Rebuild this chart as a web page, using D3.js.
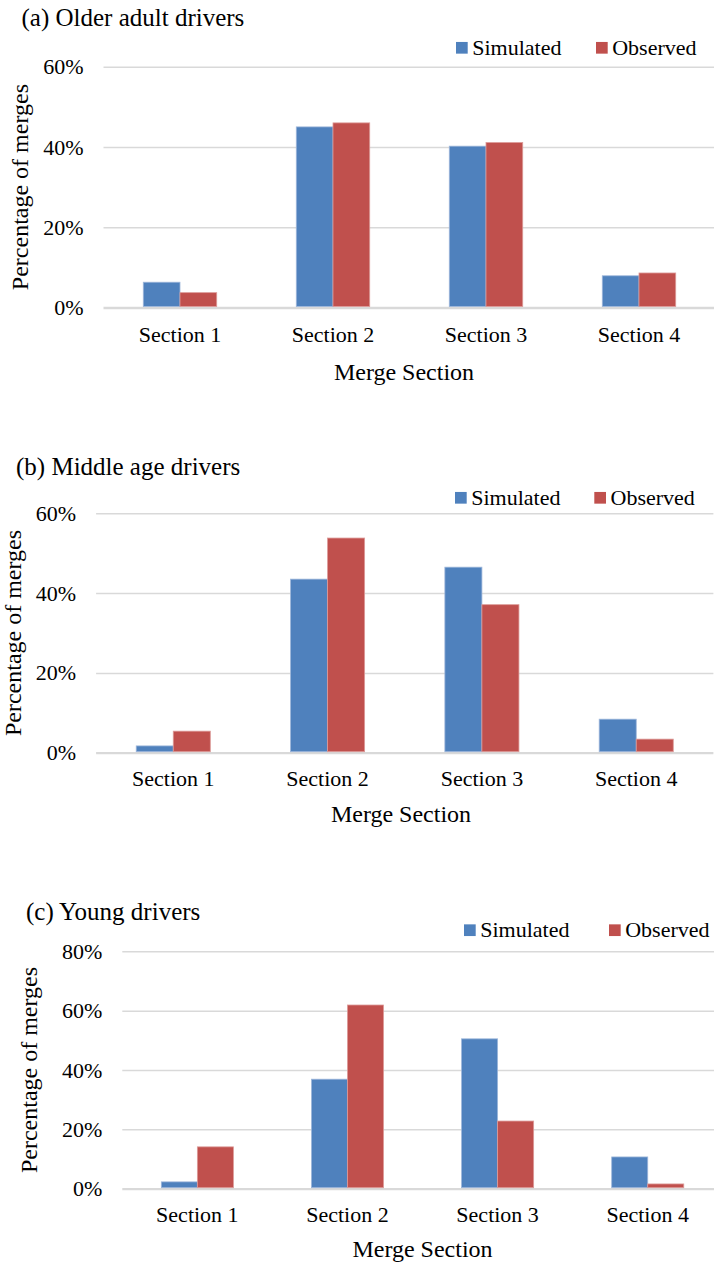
<!DOCTYPE html>
<html>
<head>
<meta charset="utf-8">
<script src="https://cdn.jsdelivr.net/npm/d3@7"></script>
<style>
  html, body { margin: 0; padding: 0; background: #fff; }
  svg { display: block; }
</style>
</head>
<body>
<script>
// ---------- data ----------
const categories = ["Section 1", "Section 2", "Section 3", "Section 4"];
const seriesNames = ["Simulated", "Observed"];
const olderSimulated = [6.3, 45.0, 40.2, 7.9];
const olderObserved = [3.7, 46.0, 41.1, 8.6];
const middleSimulated = [1.7, 43.5, 46.5, 8.4];
const middleObserved = [5.4, 53.8, 37.1, 3.4];
const youngSimulated = [2.3, 36.9, 50.5, 10.7];
const youngObserved = [14.1, 61.9, 22.8, 1.6];
const ticksSixty = [0, 20, 40, 60];
const ticksEighty = [0, 20, 40, 60, 80];
const panelTitles = ["(a) Older adult drivers", "(b) Middle age drivers", "(c) Young drivers"];
const yTitle = "Percentage of merges";
const xTitle = "Merge Section";

// ---------- styling / layout ----------
const W = 714, H = 1266;
const FONT = "'Liberation Serif', 'Times New Roman', serif";
const colors = ["#4F81BD", "#C0504D"];
const edgeColors = ["#9DB6DA", "#DC9A98"];
const gridColor = "#D9D9D9";

const panels = [
  { title: panelTitles[0], sim: olderSimulated, obs: olderObserved, ticks: ticksSixty, max: 60,
    top: 66.7, bottom: 307.5, left: 103.5, right: 715.5,
    titleX: 21.5, titleY: 26, legY: 47.8, legX1: 456, legX2: 596,
    yTitleX: 28, catY: 341.5, xTitleY: 380, xTitleX: 404 },
  { title: panelTitles[1], sim: middleSimulated, obs: middleObserved, ticks: ticksSixty, max: 60,
    top: 513.3, bottom: 752.7, left: 96.1, right: 713.4,
    titleX: 16, titleY: 475, legY: 497.8, legX1: 455, legX2: 594.3,
    yTitleX: 20.5, catY: 786, xTitleY: 821.5, xTitleX: 401 },
  { title: panelTitles[2], sim: youngSimulated, obs: youngObserved, ticks: ticksEighty, max: 80,
    top: 951.3, bottom: 1188.7, left: 122.3, right: 722.8,
    titleX: 26, titleY: 920, legY: 930.2, legX1: 464, legX2: 609,
    yTitleX: 36.5, catY: 1221.5, xTitleY: 1256.5, xTitleX: 422.5 }
];

const svg = d3.select("body").append("svg")
  .attr("width", W).attr("height", H)
  .attr("viewBox", `0 0 ${W} ${H}`);

panels.forEach(p => {
  const g = svg.append("g");
  const x0 = d3.scaleBand().domain(categories).range([p.left, p.right]).paddingInner(0).paddingOuter(0);
  const bw = x0.bandwidth() * 0.24;
  const x1 = d3.scaleBand().domain(seriesNames).range([0, bw * 2]).padding(0);
  const y = d3.scaleLinear().domain([0, p.max]).range([p.bottom, p.top]);

  // title
  g.append("text").attr("x", p.titleX).attr("y", p.titleY)
    .attr("font-size", 25).text(p.title);

  // gridlines via axis
  const gridAxis = d3.axisLeft(y).tickValues(p.ticks).tickSize(-(Math.min(p.right, W) - p.left)).tickFormat("");
  const gg = g.append("g").attr("transform", `translate(${p.left},0)`).call(gridAxis);
  gg.select(".domain").remove();
  gg.selectAll(".tick line").attr("stroke", gridColor)
    .attr("stroke-width", d => d === 0 ? 2.3 : 1.5);

  // y tick labels
  const yAxis = d3.axisLeft(y).tickValues(p.ticks).tickSize(0).tickPadding(20)
    .tickFormat(d => d + "%");
  const ya = g.append("g").attr("transform", `translate(${p.left},0)`).call(yAxis);
  ya.select(".domain").remove();
  ya.selectAll("text").attr("font-size", 22).attr("fill", "#000");

  // bars
  const series = [p.sim, p.obs];
  series.forEach((vals, si) => {
    g.append("g").selectAll("rect").data(vals).join("rect")
      .attr("x", (d, i) => x0(categories[i]) + x0.bandwidth() / 2 - bw + x1(seriesNames[si]))
      .attr("y", d => y(d))
      .attr("width", x1.bandwidth())
      .attr("height", d => y(0) - y(d) - 1)
      .attr("fill", colors[si])
      .attr("stroke", edgeColors[si]).attr("stroke-width", 0.8);
  });

  // x category labels
  const xAxis = d3.axisBottom(x0).tickSize(0).tickPadding(0);
  const xa = g.append("g").attr("transform", `translate(0,${p.catY})`).call(xAxis);
  xa.select(".domain").remove();
  xa.selectAll("text").attr("font-size", 22).attr("dy", 0).attr("y", 0).attr("fill", "#000");

  // axis titles
  g.append("text").attr("x", p.xTitleX).attr("y", p.xTitleY)
    .attr("text-anchor", "middle").attr("font-size", 24).text(xTitle);
  g.append("text")
    .attr("transform", `translate(${p.yTitleX},${(p.top + p.bottom) / 2}) rotate(-90)`)
    .attr("text-anchor", "middle").attr("font-size", 24).text(yTitle);

  // legend
  const sq = 11.7;
  [p.legX1, p.legX2].forEach((lx, si) => {
    g.append("rect").attr("x", lx).attr("y", p.legY - sq / 2)
      .attr("width", sq).attr("height", sq).attr("fill", colors[si]);
    g.append("text").attr("x", lx + sq + 4.5).attr("y", p.legY + 7)
      .attr("font-size", 22).text(seriesNames[si]);
  });
});

svg.selectAll("text").style("font-family", FONT).style("fill", "#000");
</script>
</body>
</html>
